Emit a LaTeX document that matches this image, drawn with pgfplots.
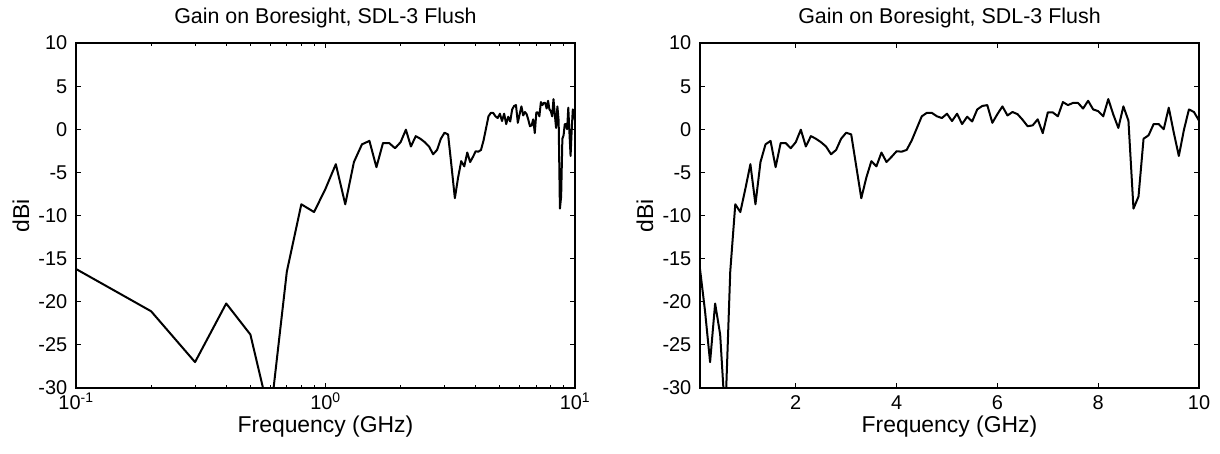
\documentclass[border=0pt]{standalone}
\usepackage{fontspec}
\setmainfont{Liberation Sans}
\usepackage{pgfplots}
\usepackage{pgfplotstable}
\pgfplotsset{compat=1.18}

\pgfplotstableread{
f g
0.1 -16.2
0.2 -21.1
0.3 -27.0
0.4 -20.2
0.5 -23.8
0.6 -33.5
0.7 -16.5
0.8 -8.7
0.9 -9.6
1.0 -6.9
1.1 -4.05
1.2 -8.7
1.3 -3.8
1.4 -1.75
1.5 -1.35
1.6 -4.4
1.7 -1.6
1.8 -1.6
1.9 -2.2
2.0 -1.5
2.1 -0.05
2.2 -2.0
2.3 -0.8
2.4 -1.1
2.5 -1.5
2.6 -2.0
2.7 -2.9
2.8 -2.4
2.9 -1.1
3.0 -0.4
3.1 -0.6
3.2 -4.3
3.3 -8.0
3.4 -5.6
3.5 -3.7
3.6 -4.3
3.7 -2.7
3.8 -3.8
3.9 -3.2
4.0 -2.55
4.1 -2.6
4.2 -2.4
4.3 -1.3
4.4 0.1
4.5 1.5
4.6 1.9
4.7 1.9
4.8 1.5
4.9 1.3
5.0 1.8
5.1 0.95
5.2 1.8
5.3 0.6
5.4 1.45
5.5 0.9
5.6 2.3
5.7 2.7
5.8 2.8
5.9 0.75
6.0 1.75
6.1 2.65
6.2 1.6
6.3 2.0
6.4 1.75
6.5 1.1
6.6 0.35
6.7 0.45
6.8 1.15
6.9 -0.45
7.0 1.95
7.1 1.95
7.2 1.5
7.3 3.15
7.4 2.8
7.5 3.05
7.6 3.05
7.7 2.4
7.8 3.3
7.9 2.3
8.0 2.1
8.1 1.5
8.2 3.5
8.3 1.7
8.4 0.15
8.5 2.65
8.6 1.0
8.7 -9.2
8.8 -7.8
8.9 -1.1
9.0 -0.7
9.1 0.6
9.2 0.6
9.3 0.0
9.4 2.5
9.5 -0.4
9.6 -3.1
9.7 -0.1
9.8 2.3
9.9 2.0
10.0 1.0
}\gaindata

\pgfplotsset{
  gainaxis/.style={
    scale only axis, width=499bp, height=345bp,
    ymin=-30, ymax=10,
    ytick={-30,-25,-20,-15,-10,-5,0,5,10},
    yticklabels={-30,-25,-20,-15,-10,-5,0,5,10},
    tick align=inside,
    major tick length=5bp, minor tick length=3bp,
    every tick/.style={black, line width=0.9bp},
    axis line style={line width=1.4bp},
    /pgf/number format/assume math mode=true,
    tick label style={font=\fontsize{20}{23}\selectfont, inner sep=0.5bp},
    label style={font=\fontsize{23}{26}\selectfont, inner sep=0.5bp},
    title style={font=\fontsize{21.5}{24}\selectfont, at={(0.5,1)}, anchor=base, yshift=14bp},
    title={Gain on Boresight, SDL-3 Flush},
    xlabel={Frequency (GHz)},
    ylabel={dBi},
    xlabel style={at={(0.5,0)}, anchor=base, yshift=-45bp},
    ylabel style={at={(0,0.5)}, anchor=center, yshift=55bp},
    xticklabel style={anchor=base, yshift=-22bp},
    yticklabel style={anchor=base east, xshift=-8bp, yshift=-7bp},
  },
}

\begin{document}
\begin{tikzpicture}
\useasboundingbox (0,0) rectangle (1220bp,454bp);
\begin{axis}[gainaxis, at={(76bp,66bp)}, anchor=south west,
    xmode=log, xmin=0.1, xmax=10,
    xtick={0.1,1,10},
    xticklabels={10\textsuperscript{-1},10\textsuperscript{0},10\textsuperscript{1}},
  ]
  \addplot[black, line width=2bp, line join=round] table[x=f, y=g] {\gaindata};
\end{axis}
\begin{axis}[gainaxis, at={(700bp,66bp)}, anchor=south west,
    xmin=0.1, xmax=10,
    xtick={2,4,6,8,10},
    xticklabels={2,4,6,8,10},
  ]
  \addplot[black, line width=2bp, line join=round] table[x=f, y=g] {\gaindata};
\end{axis}
\end{tikzpicture}
\end{document}
